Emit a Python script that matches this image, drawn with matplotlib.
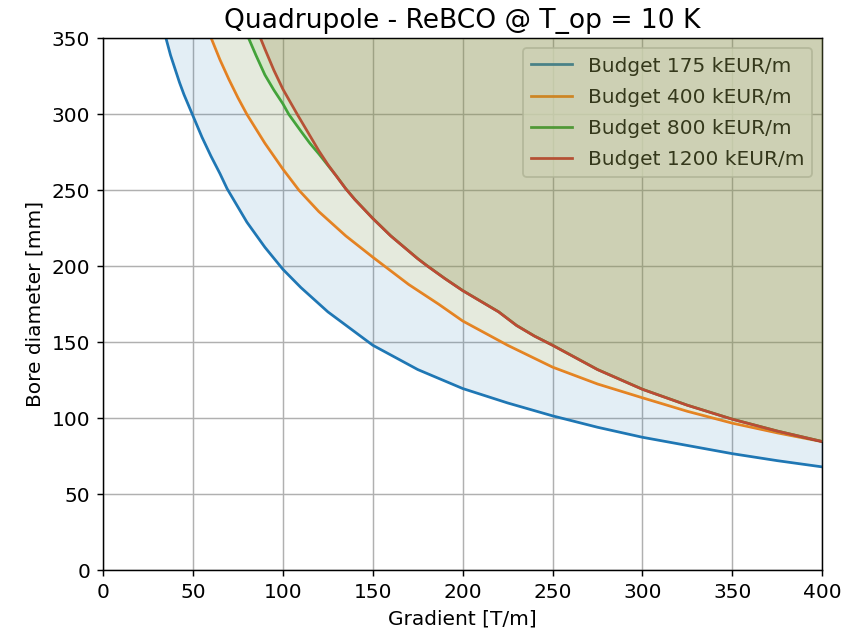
import matplotlib
matplotlib.use("Agg")
import matplotlib.pyplot as plt

# gradient [T/m] vs bore diameter [mm]
g_175 = [35, 37.5, 40, 42.5, 45, 47.5, 50, 55, 60, 65, 69, 75, 80, 90, 100,
         110, 125, 150, 175, 200, 225, 250, 275, 300, 325, 350, 375, 400]
d_175 = [350, 339, 330, 321, 313, 306, 299, 285, 272.5, 261, 251, 239, 229,
         212.5, 198, 186, 170, 148, 132, 119.5, 110, 101.5, 94, 87.4, 82,
         76.6, 72, 67.9]

g_400 = [60.2, 65, 70, 75, 80, 90, 100, 109, 120, 135, 150, 160, 170,
         186.7, 200, 225, 250, 275, 300, 325, 350, 375, 400]
d_400 = [350, 336, 323, 311, 300, 281, 264, 250, 236, 220, 206, 197, 188,
         175, 164, 148, 133.6, 122.5, 113.4, 104.5, 96.7, 90.3, 84.5]

g_1200 = [87.6, 90, 95, 100, 108, 115, 120, 125, 130, 135, 140, 150, 160,
          175, 180, 190, 200, 210, 220, 230, 240, 250, 275, 300, 325, 350,
          375, 400]
d_1200 = [350, 343, 329, 316.6, 300, 286, 276, 267, 259, 251, 244, 231.5,
          220, 205, 200.5, 192, 184, 177, 170, 161, 154, 148, 132, 119,
          108.5, 99.3, 91.5, 84.6]

# 800 kEUR/m runs left of 1200 at the top, then lies under it
g_800_head = [81, 85, 90, 95, 100, 103.3, 110, 115, 120, 125]
d_800_head = [350, 339, 326, 316, 307, 300, 289, 281, 274, 266.5]
g_800 = g_800_head + g_1200[8:]
d_800 = d_800_head + d_1200[8:]

budgets = [175, 400, 800, 1200]
curves = [(g_175, d_175), (g_400, d_400), (g_800, d_800), (g_1200, d_1200)]
# translucent shading laid over everything above each curve
SHADE = ["#1f77b4", "#f5d230", "#5cc83a", "#a04020"]

plt.rcParams.update({"font.size": 11})

fig, ax = plt.subplots(figsize=(6.4, 4.8), dpi=131.5)
for b, (g, d), shade in zip(budgets, curves, SHADE):
    ax.plot(g, d, lw=1.5, label=f"Budget {b} kEUR/m")
    ax.fill_between(g, d, 350, color=shade, alpha=0.12, lw=0, zorder=10)

ax.set_xlim(0, 400)
ax.set_ylim(0, 350)
ax.set_xlabel("Gradient [T/m]")
ax.set_ylabel("Bore diameter [mm]")
ax.set_title("Quadrupole - ReBCO @ T_op = 10 K", fontsize=14.5)
ax.grid(True)
ax.legend(loc="upper right", labelspacing=0.6)
fig.subplots_adjust(left=0.1225, right=0.977, top=0.9388, bottom=0.0966)
fig.savefig("out.png", dpi=131.5)
